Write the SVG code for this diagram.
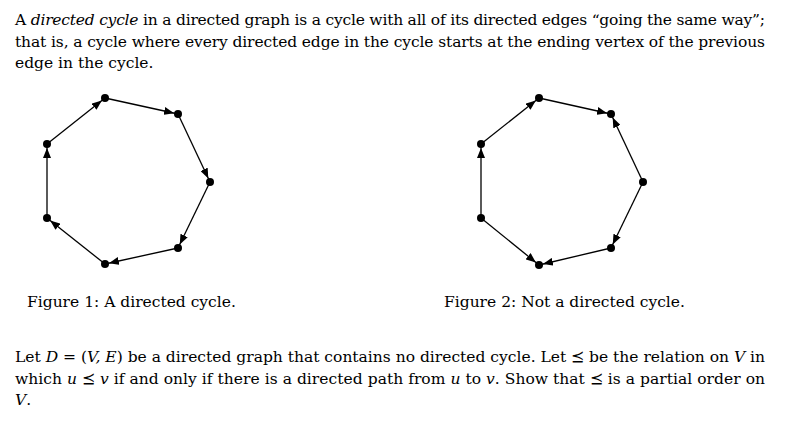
<svg xmlns="http://www.w3.org/2000/svg" width="800" height="434" viewBox="0 0 800 434">
<style>
text{font-family:"DejaVu Serif","Liberation Serif",serif;font-size:15.5px;fill:#000}
.e{stroke:#000;stroke-width:1.3;fill:none;marker-end:url(#a)}
.n{fill:#000}
</style>
<defs><marker id="a" viewBox="0 0 10 8" refX="14" refY="4" markerWidth="10" markerHeight="8" markerUnits="userSpaceOnUse" orient="auto"><path d="M0,0L10,4L0,8z"/></marker></defs>
<rect width="800" height="434" fill="#fff"/>
<text x="15" y="25" textLength="750" lengthAdjust="spacing">A <tspan font-style="italic">directed cycle</tspan> in a directed graph is a cycle with all of its directed edges “going the same way”;</text>
<text x="15" y="47" textLength="750" lengthAdjust="spacing">that is, a cycle where every directed edge in the cycle starts at the ending vertex of the previous</text>
<text x="15" y="68">edge in the cycle.</text>
<g id="connectors">
<line class="e" x1="47" y1="144" x2="105" y2="98"/>
<line class="e" x1="105" y1="98" x2="178" y2="114"/>
<line class="e" x1="178" y1="114" x2="210" y2="182"/>
<line class="e" x1="210" y1="182" x2="178" y2="248"/>
<line class="e" x1="178" y1="248" x2="105" y2="264"/>
<line class="e" x1="105" y1="264" x2="47" y2="218"/>
<line class="e" x1="47" y1="218" x2="47" y2="144"/>
<line class="e" x1="481" y1="144" x2="539" y2="98"/>
<line class="e" x1="539" y1="98" x2="611" y2="114"/>
<line class="e" x1="643" y1="182" x2="611" y2="114"/>
<line class="e" x1="643" y1="182" x2="611" y2="248"/>
<line class="e" x1="611" y1="248" x2="539" y2="265"/>
<line class="e" x1="481" y1="218" x2="539" y2="265"/>
<line class="e" x1="481" y1="218" x2="481" y2="144"/>
</g>
<g id="fig1">
<circle class="n" cx="105" cy="98" r="4"/><circle class="n" cx="178" cy="114" r="4"/><circle class="n" cx="210" cy="182" r="4"/><circle class="n" cx="178" cy="248" r="4"/><circle class="n" cx="105" cy="264" r="4"/><circle class="n" cx="47" cy="218" r="4"/><circle class="n" cx="47" cy="144" r="4"/>
</g>
<g id="fig2">
<circle class="n" cx="539" cy="98" r="4"/><circle class="n" cx="611" cy="114" r="4"/><circle class="n" cx="643" cy="182" r="4"/><circle class="n" cx="611" cy="248" r="4"/><circle class="n" cx="539" cy="265" r="4"/><circle class="n" cx="481" cy="218" r="4"/><circle class="n" cx="481" cy="144" r="4"/>
</g>
<text x="27" y="307">Figure 1: A directed cycle.</text>
<text x="444" y="307">Figure 2: Not a directed cycle.</text>
<text x="15" y="362" textLength="750" lengthAdjust="spacing">Let <tspan font-style="italic">D</tspan> = (<tspan font-style="italic">V, E</tspan>) be a directed graph that contains no directed cycle. Let ⪯ be the relation on <tspan font-style="italic">V</tspan> in</text>
<text x="15" y="384" textLength="750" lengthAdjust="spacing">which <tspan font-style="italic">u</tspan> ⪯ <tspan font-style="italic">v</tspan> if and only if there is a directed path from <tspan font-style="italic">u</tspan> to <tspan font-style="italic">v</tspan>. Show that ⪯ is a partial order on</text>
<text x="15" y="405"><tspan font-style="italic">V</tspan>.</text>
</svg>
